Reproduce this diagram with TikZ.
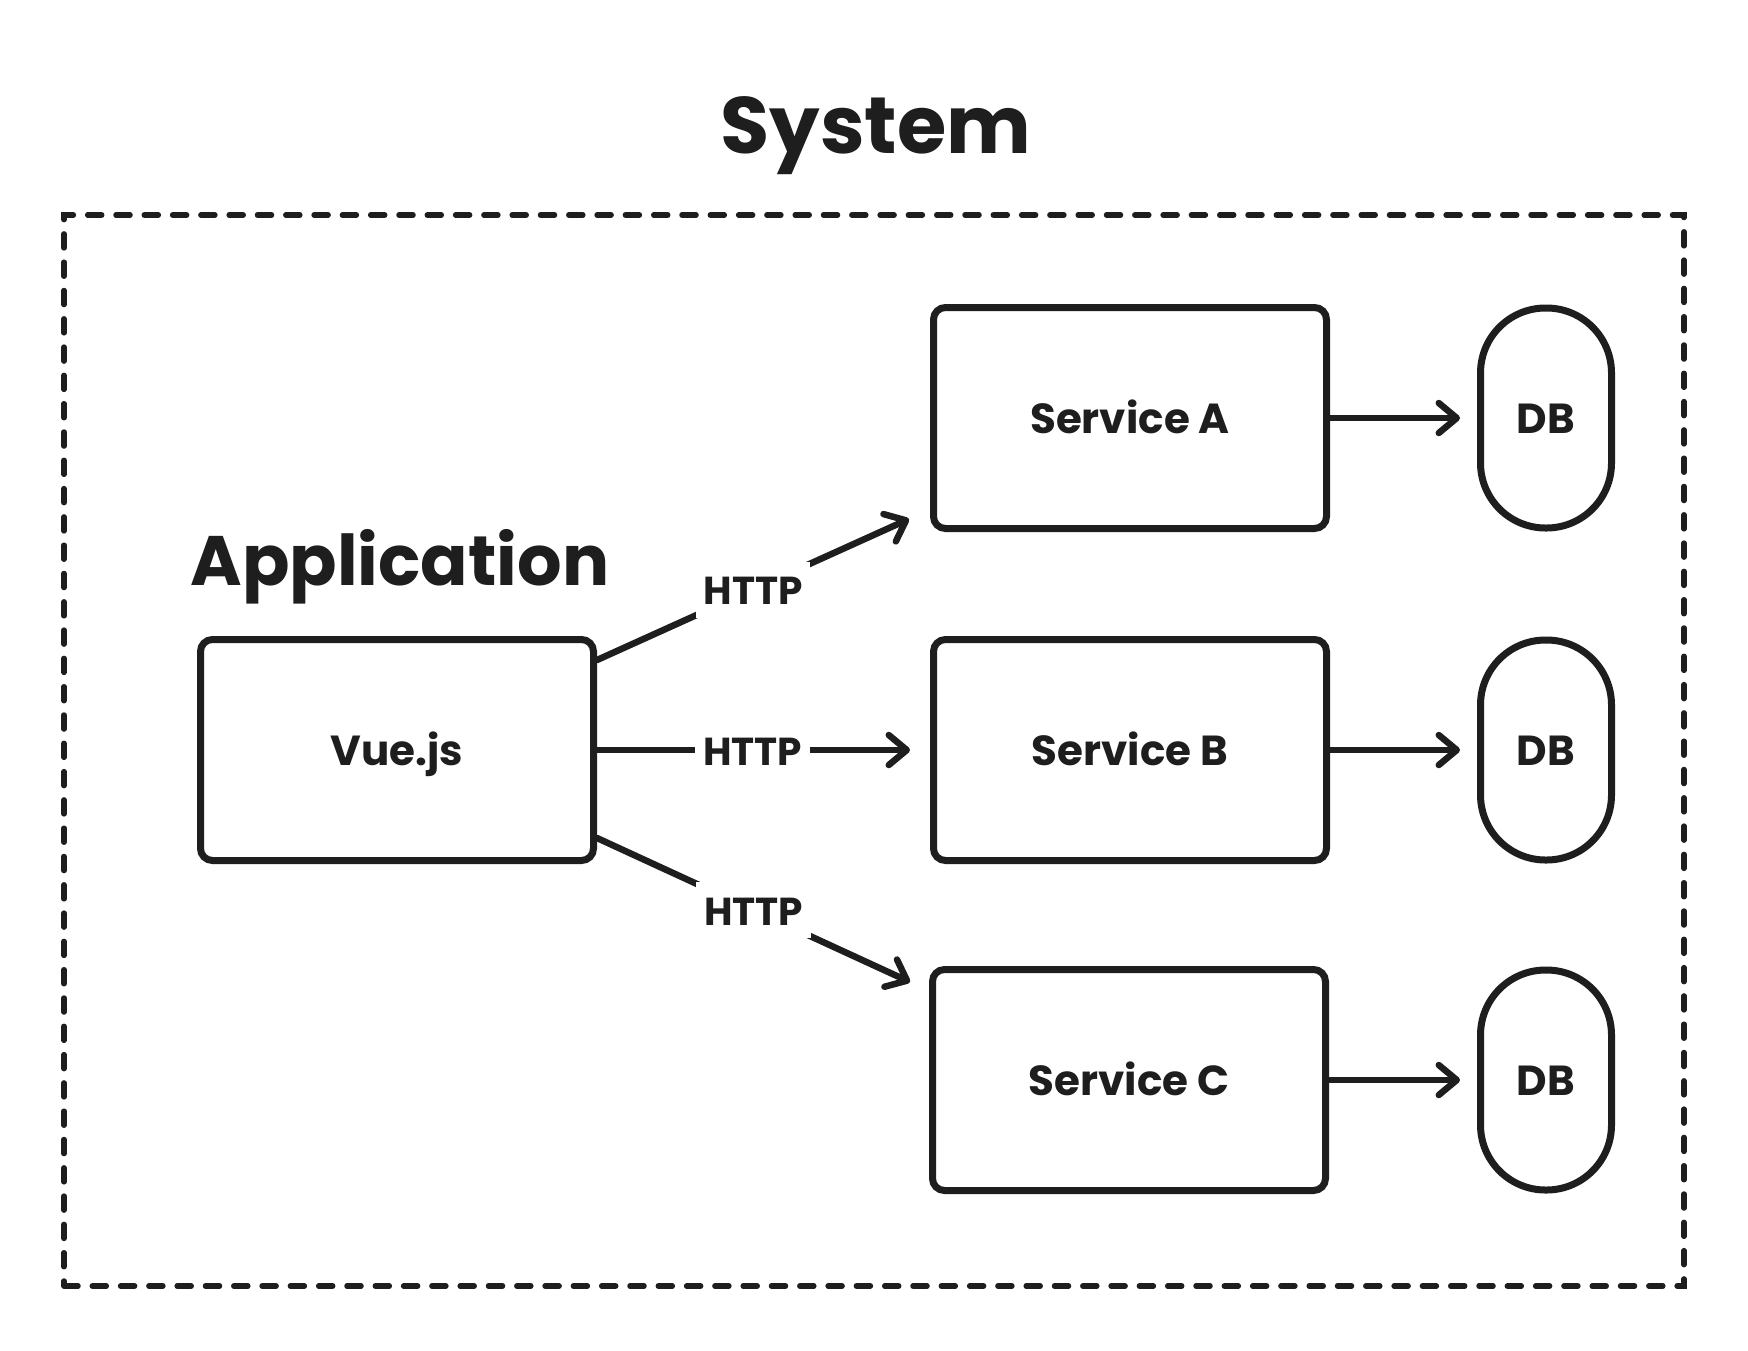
\documentclass[tikz,border=0pt]{standalone}
\usepackage{fontspec}
\setmainfont{Poppins}
\usetikzlibrary{arrows.meta}
\definecolor{ink}{HTML}{1E1E1E}
\begin{document}
\begin{tikzpicture}[x=1pt,y=-1pt,
  every node/.style={text=ink},
  lbl/.style={font=\fontsize{42}{42}\selectfont\bfseries, text height=30pt, text depth=0pt},
  box/.style={draw=ink, line width=7pt, rounded corners=12pt, minimum width=393pt, minimum height=221pt, inner sep=0pt, lbl},
  dbnode/.style={draw=ink, line width=7pt, rounded corners=65pt, minimum width=131pt, minimum height=220pt, inner sep=0pt, lbl},
  frame/.style={draw=ink, line width=5.5pt, line cap=round, dash pattern=on 14pt off 14.3pt, minimum width=1620pt, minimum height=1071pt, inner sep=0pt},
  arr/.style={draw=ink, line width=6.5pt, line cap=round, -{Straight Barb[length=18pt,width=30pt,round]}},
  http/.style={fill=white, font=\fontsize{39}{39}\selectfont\bfseries, text height=30pt, text depth=0pt, inner xsep=8pt, inner ysep=13pt}
]
\useasboundingbox (0,0) rectangle (1748,1350);
\fill[white] (0,0) rectangle (1748,1350);

\node (sys) [frame] at (874,750.5) {};
\node (title) [anchor=base, font=\fontsize{80}{80}\selectfont\bfseries] at (876,153) {System};
\node (app) [anchor=base, font=\fontsize{70}{70}\selectfont\bfseries] at (400,585) {Application};

\node (vue) [box] at (397,750) {Vue.js};
\node (sa) [box] at (1130,418) {Service A};
\node (sb) [box] at (1130,750) {Service B};
\node (sc) [box] at (1129,1080) {Service C};

\node (dba) [dbnode] at (1546,418) {DB};
\node (dbb) [dbnode] at (1546,750) {DB};
\node (dbc) [dbnode] at (1546,1080) {DB};

\coordinate (u0) at ([yshift=90pt]vue.east);
\coordinate (u1) at ([xshift=-21pt,yshift=13pt]sa.south west);
\coordinate (l0) at ([yshift=-88pt]vue.east);
\coordinate (l1) at ([xshift=-19pt,yshift=-16pt]sc.north west);

\draw[arr] (u0) -- node[http] (h1) {HTTP} (u1);
\draw[arr, shorten >=20pt] (vue.east) -- node[http, pos=0.468] (h2) {HTTP} (sb.west);
\draw[arr] (l0) -- node[http] (h3) {HTTP} (l1);

\draw[arr, shorten >=17pt] (sa.east) -- (dba.west);
\draw[arr, shorten >=17pt] (sb.east) -- (dbb.west);
\draw[arr, shorten >=17pt] (sc.east) -- (dbc.west);
\end{tikzpicture}
\end{document}
